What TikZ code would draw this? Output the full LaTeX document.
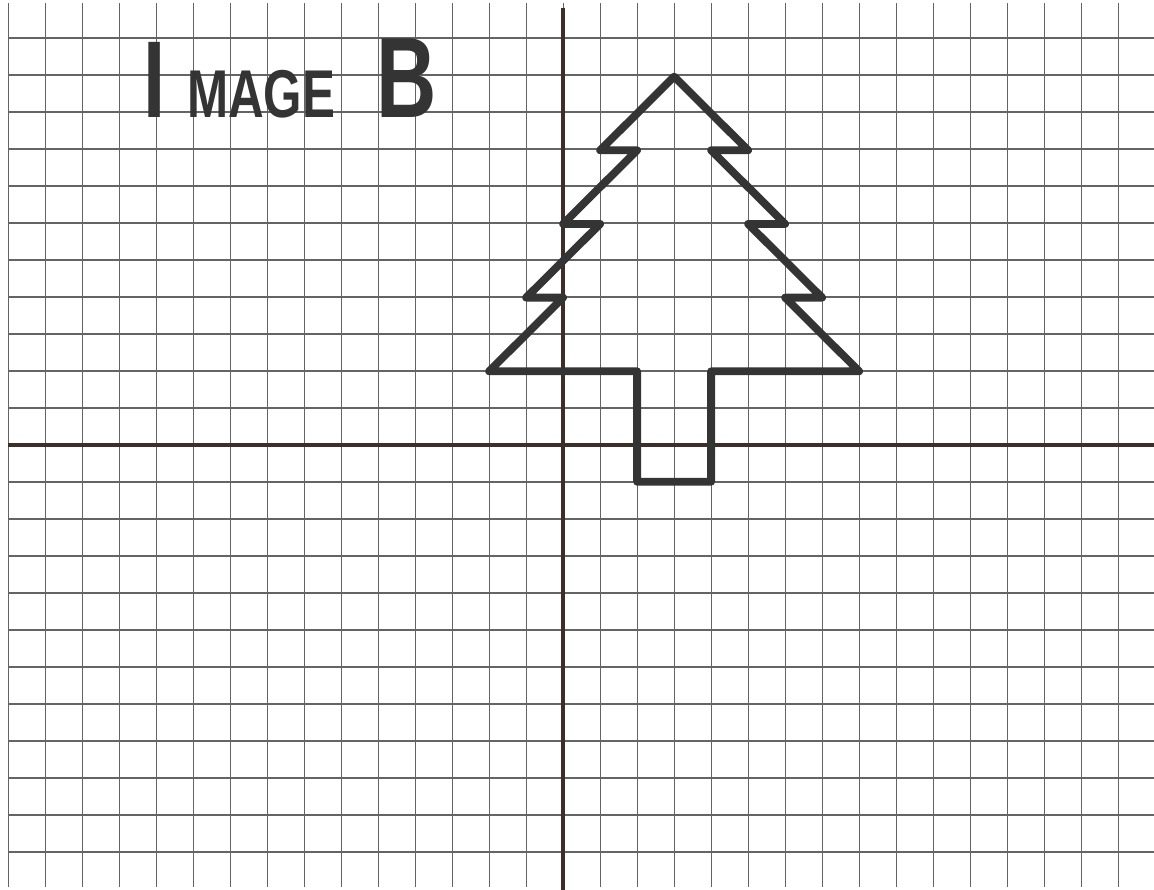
\documentclass[tikz,border=0pt]{standalone}
\usepackage{graphicx}
\usepackage{fontspec}
\usepackage{tikz}
\setmainfont{Liberation Sans}
\definecolor{gridGray}  {RGB}{100,100,100}
\definecolor{axisBrown} {RGB}{62, 46, 42}
\definecolor{penGray}   {RGB}{52, 52, 52}

\begin{document}
\begin{tikzpicture}[x=1cm,y=0.9955cm]

    \useasboundingbox[fill=white] (-15.22,-12.08) rectangle (15.97,12.08);

    % ── GRID ───────────────────────────────────────────────
    \draw[gridGray,line width=0.9pt] (-15,-12) grid (15.97,12);

    % ── AXES ───────────────────────────────────────────────
    \draw[axisBrown,line width=3.4pt] (-15,0) -- (15.97,0);
    \draw[axisBrown,line width=3.4pt] (0,11.87) -- (0,-12.08);

    % ── TREE ───────────────────────────────────────────────
    \draw[penGray,line width=6pt,line join=round,line cap=round]
      (3,10) -- (5,8) -- (4,8) -- (6,6) -- (5,6) -- (7,4) -- (6,4) -- (8,2)
      -- (4,2) -- (4,-1) -- (2,-1) -- (2,2) -- (-2,2)
      -- (0,4) -- (-1,4) -- (1,6) -- (0,6) -- (2,8) -- (1,8) -- cycle;

    % titulo
    \node[anchor=base west,inner sep=0pt,penGray,font=\bfseries] (title) at (-11.34,8.9)
      {\scalebox{0.73}[1]{\fontsize{84}{84}\selectfont I\hspace{0.78cm}%
       \fontsize{52}{52}\selectfont MAGE\hspace{1.54cm}%
       \fontsize{88}{88}\selectfont B}};

\end{tikzpicture}
\end{document}
